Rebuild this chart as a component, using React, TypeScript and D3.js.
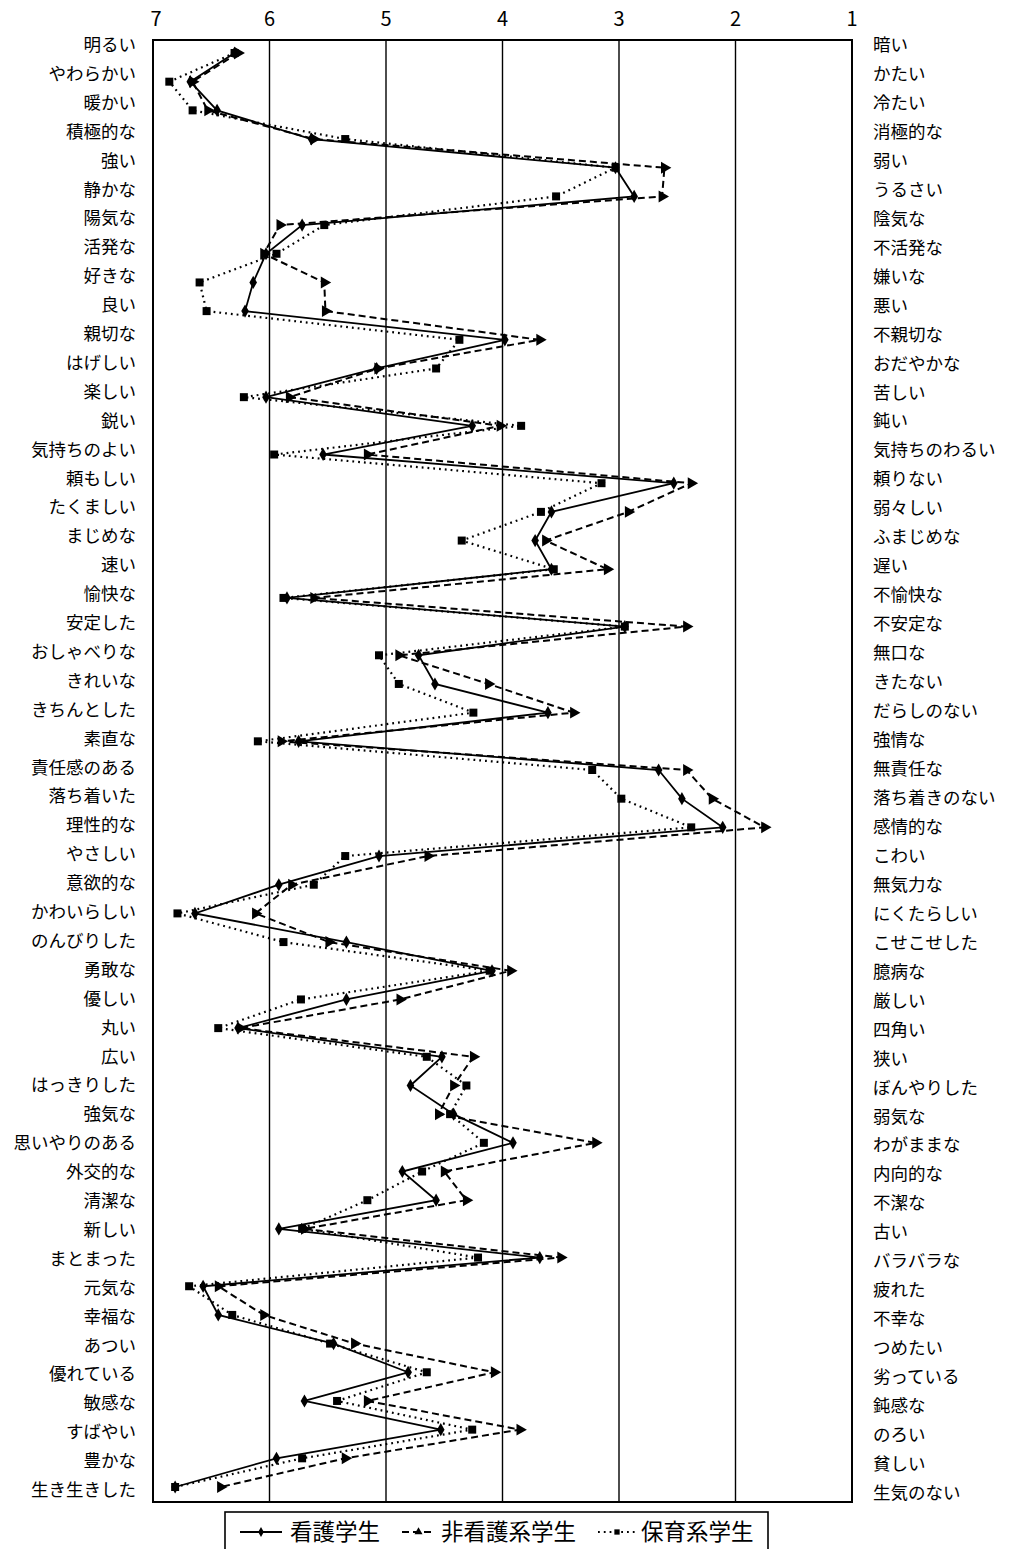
import React from "react";
import * as d3 from "d3";

const leftLabels = [
  "明るい", "やわらかい", "暖かい", "積極的な", "強い", "静かな", "陽気な", "活発な", "好きな", "良い",
  "親切な", "はげしい", "楽しい", "鋭い", "気持ちのよい", "頼もしい", "たくましい", "まじめな", "速い", "愉快な",
  "安定した", "おしゃべりな", "きれいな", "きちんとした", "素直な", "責任感のある", "落ち着いた", "理性的な", "やさしい", "意欲的な",
  "かわいらしい", "のんびりした", "勇敢な", "優しい", "丸い", "広い", "はっきりした", "強気な", "思いやりのある", "外交的な",
  "清潔な", "新しい", "まとまった", "元気な", "幸福な", "あつい", "優れている", "敏感な", "すばやい", "豊かな",
  "生き生きした",
];

const rightLabels = [
  "暗い", "かたい", "冷たい", "消極的な", "弱い", "うるさい", "陰気な", "不活発な", "嫌いな", "悪い",
  "不親切な", "おだやかな", "苦しい", "鈍い", "気持ちのわるい", "頼りない", "弱々しい", "ふまじめな", "遅い", "不愉快な",
  "不安定な", "無口な", "きたない", "だらしのない", "強情な", "無責任な", "落ち着きのない", "感情的な", "こわい", "無気力な",
  "にくたらしい", "こせこせした", "臆病な", "厳しい", "四角い", "狭い", "ぼんやりした", "弱気な", "わがままな", "内向的な",
  "不潔な", "古い", "バラバラな", "疲れた", "不幸な", "つめたい", "劣っている", "鈍感な", "のろい", "貧しい",
  "生気のない",
];

// 看護学生 (solid, diamond)
const nursing = [
  6.30, 6.68, 6.45, 5.64, 3.03, 2.87, 5.72, 6.03, 6.14, 6.21,
  3.98, 5.08, 6.03, 4.26, 5.54, 2.53, 3.58, 3.72, 3.58, 5.85,
  2.95, 4.72, 4.58, 3.61, 5.75, 2.66, 2.46, 2.11, 5.06, 5.92,
  6.64, 5.34, 4.09, 5.34, 6.27, 4.52, 4.79, 4.42, 3.91, 4.86,
  4.57, 5.92, 3.68, 6.57, 6.44, 5.45, 4.81, 5.70, 4.53, 5.94,
  6.81,
];

// 非看護系学生 (dashed, triangle)
const nonNursing = [
  6.27, 6.66, 6.53, 5.62, 2.61, 2.63, 5.91, 6.05, 5.53, 5.52,
  3.68, 5.07, 5.83, 4.02, 5.16, 2.38, 2.92, 3.63, 3.10, 5.62,
  2.42, 4.89, 4.12, 3.39, 5.90, 2.42, 2.20, 1.75, 4.64, 5.81,
  6.12, 5.49, 3.93, 4.88, 6.25, 4.25, 4.42, 4.55, 3.20, 4.50,
  4.31, 5.70, 3.50, 6.44, 6.05, 5.27, 4.07, 5.16, 3.85, 5.35,
  6.42,
];

// 保育系学生 (dotted, square)
const childcare = [
  6.30, 6.86, 6.66, 5.35, 3.03, 3.54, 5.53, 5.94, 6.60, 6.54,
  4.37, 4.57, 6.22, 3.84, 5.96, 3.15, 3.67, 4.35, 3.56, 5.88,
  2.95, 5.06, 4.89, 4.25, 6.10, 3.23, 2.98, 2.38, 5.35, 5.62,
  6.79, 5.88, 4.11, 5.73, 6.44, 4.65, 4.31, 4.45, 4.16, 4.69,
  5.16, 5.72, 4.21, 6.69, 6.32, 5.48, 4.65, 5.42, 4.26, 5.72,
  6.81,
];

const xTicks = [7, 6, 5, 4, 3, 2, 1];
const seriesNames = ["看護学生", "非看護系学生", "保育系学生"];

const W = 1013;
const H = 1549;
const FONT = "'Noto Sans CJK JP', 'Noto Sans', sans-serif";

const box = { left: 153, right: 852, top: 40, bottom: 1502 };

export default function App() {
  const idx = d3.range(leftLabels.length);
  const x = d3.scaleLinear().domain([7, 1]).range([box.left, box.right]);
  const yPt = d3.scalePoint<number>().domain(idx).range([53, 1487]);
  const yLabL = d3.scalePoint<number>().domain(idx).range([45, 1490]);
  const yLabR = d3.scalePoint<number>().domain(idx).range([45, 1493]);

  const line = d3
    .line<number>()
    .x((d) => x(d))
    .y((_, i) => yPt(i) as number);

  const diamond = d3.symbol(d3.symbolDiamond, 50)();
  const triangle = d3.symbol(d3.symbolTriangle, 62)();
  const square = d3.symbol(d3.symbolSquare, 64)();

  const series = [
    { name: seriesNames[0], data: nursing, dash: "none", width: 1.8, sym: diamond, rot: 0, lsym: d3.symbolDiamond },
    { name: seriesNames[1], data: nonNursing, dash: "7,4", width: 2, sym: triangle, rot: 90, lsym: d3.symbolTriangle },
    { name: seriesNames[2], data: childcare, dash: "1.8,4", width: 2.2, sym: square, rot: 0, lsym: d3.symbolSquare },
  ];

  const legendItems = [
    { x0: 240, x1: 282, tx: 290, s: series[0] },
    { x0: 402, x1: 435, tx: 441, s: series[1] },
    { x0: 598, x1: 636, tx: 641, s: series[2] },
  ];

  return (
    <svg
      width={W}
      height={H}
      viewBox={`0 0 ${W} ${H}`}
      style={{ position: "absolute", left: 0, top: 0, background: "#fff" }}
      fontFamily={FONT}
    >
      <rect x={0} y={0} width={W} height={H} fill="#fff" />
      {xTicks.slice(1, -1).map((t) => (
        <line key={t} x1={x(t)} x2={x(t)} y1={box.top} y2={box.bottom} stroke="#000" strokeWidth={1.4} />
      ))}
      <rect
        x={box.left}
        y={box.top}
        width={box.right - box.left}
        height={box.bottom - box.top}
        fill="none"
        stroke="#000"
        strokeWidth={2}
      />
      {xTicks.map((t) => (
        <text key={t} x={x(t) + (t === 7 ? 3 : 0)} y={26} fontSize={20} textAnchor="middle" fill="#000">
          {t}
        </text>
      ))}
      {leftLabels.map((l, i) => (
        <text key={l} x={136} y={(yLabL(i) as number) + 6} fontSize={17.5} textAnchor="end" fill="#000">
          {l}
        </text>
      ))}
      {rightLabels.map((l, i) => (
        <text key={l} x={873} y={(yLabR(i) as number) + 6} fontSize={17.5} textAnchor="start" fill="#000">
          {l}
        </text>
      ))}
      {series.map((s) => (
        <g key={s.name}>
          <path d={line(s.data) || ""} fill="none" stroke="#000" strokeWidth={s.width} strokeDasharray={s.dash} />
          {s.data.map((v, i) => (
            <path
              key={i}
              d={s.sym || ""}
              transform={`translate(${x(v)},${yPt(i)}) rotate(${s.rot})`}
              fill="#000"
            />
          ))}
        </g>
      ))}
      <rect x={225} y={1512} width={543} height={50} fill="#fff" stroke="#000" strokeWidth={1.6} />
      {legendItems.map((it) => (
        <g key={it.s.name}>
          <line
            x1={it.x0}
            x2={it.x1}
            y1={1532}
            y2={1532}
            stroke="#000"
            strokeWidth={it.s.width}
            strokeDasharray={it.s.dash}
          />
          <path
            d={d3.symbol(it.s.lsym, 28)() || ""}
            transform={`translate(${(it.x0 + it.x1) / 2},1532)`}
            fill="#000"
          />
          <text x={it.tx} y={1540} fontSize={22.5} fill="#000">
            {it.s.name}
          </text>
        </g>
      ))}
    </svg>
  );
}
